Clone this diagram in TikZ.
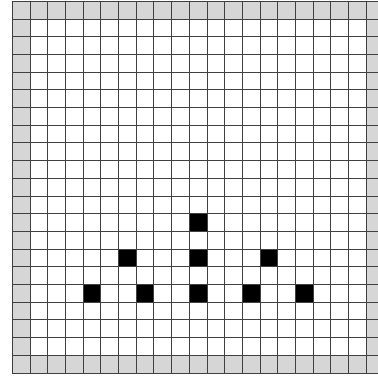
\documentclass[tikz,border=0pt]{standalone}
\usepackage{tikz}

\begin{document}
\begin{tikzpicture}[x=0.5cm, y=-0.5cm,
  gridline/.style={draw=black!75, line width=0.75pt},
  wall/.style={fill=black!16},
  stone/.style={fill=black}]
\useasboundingbox (-0.695,-0.073) rectangle (20.66,21.24);
\clip (-0.695,-0.073) rectangle (20.66,21.24);
% border cells and free field
\fill[wall] (0,0) rectangle (21,21);
\fill[white] (1,1) rectangle (20,20);
% occupied cells
\foreach \c/\r in {10/12, 6/14, 10/14, 14/14, 4/16, 7/16, 10/16, 13/16, 16/16}
  \fill[stone] (\c,\r) rectangle ++(1,1);
% grid lines
\foreach \i in {0,...,21} {
  \draw[gridline] (\i,0) -- (\i,21);
  \draw[gridline] (0,\i) -- (21,\i);
}
\end{tikzpicture}
\end{document}
